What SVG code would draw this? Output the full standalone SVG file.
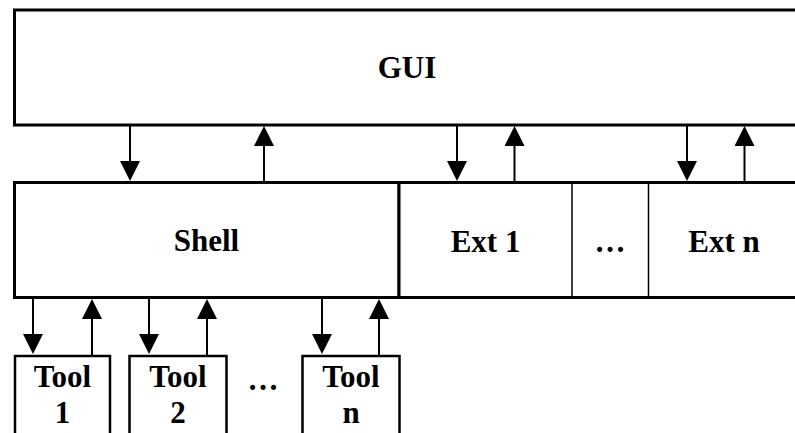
<svg xmlns="http://www.w3.org/2000/svg" width="795" height="433" viewBox="0 0 795 433">
  <style>
    .box { fill: #ffffff; stroke: #000000; stroke-width: 3; }
    .tool { fill: #ffffff; stroke: #000000; stroke-width: 2.5; }
    .thin { stroke: #000000; stroke-width: 1.5; }
    .wire { stroke: #000000; stroke-width: 2; fill: none; }
    .label { font-family: "Liberation Serif", "Times New Roman", serif; font-weight: bold; font-size: 31px; fill: #000000; text-anchor: middle; }
  </style>
  <defs>
    <marker id="head" viewBox="0 0 20 20" markerUnits="userSpaceOnUse" markerWidth="20" markerHeight="20" refX="16" refY="10" orient="auto">
      <path d="M0,0 L20,10 L0,20 z" fill="#000000"/>
    </marker>
  </defs>
  <rect width="795" height="433" fill="#ffffff"/>

  <g id="gui">
    <rect class="box" x="14.5" y="10" width="790" height="115"/>
    <text class="label" x="407" y="78">GUI</text>
  </g>

  <g id="shell">
    <rect class="box" x="14.5" y="182.5" width="384.5" height="115"/>
    <text class="label" x="206.5" y="251">Shell</text>
  </g>

  <g id="ext-row">
    <rect class="box" x="399" y="182.5" width="405" height="115"/>
    <line class="thin" x1="572" y1="182.5" x2="572" y2="297.5"/>
    <line class="thin" x1="648.5" y1="182.5" x2="648.5" y2="297.5"/>
  </g>
  <g id="ext1">
    <text class="label" x="485.5" y="252">Ext 1</text>
  </g>
  <g id="ext-dots">
    <text class="label" x="610" y="252">…</text>
  </g>
  <g id="extn">
    <text class="label" x="724" y="252">Ext n</text>
  </g>

  <g id="tool1">
    <rect class="tool" x="15" y="356" width="95" height="90"/>
    <text class="label" x="62.5" y="387">Tool</text>
    <text class="label" x="62.5" y="423">1</text>
  </g>
  <g id="tool2">
    <rect class="tool" x="129.5" y="356" width="97" height="90"/>
    <text class="label" x="178" y="387">Tool</text>
    <text class="label" x="178" y="423">2</text>
  </g>
  <g id="tool-dots">
    <text class="label" x="263" y="390">…</text>
  </g>
  <g id="tooln">
    <text class="label" x="351" y="387">Tool</text>
    <text class="label" x="351" y="423">n</text>
    <rect class="tool" x="302.5" y="356" width="97" height="90" fill="none" style="fill:none"/>
  </g>

  <g id="connectors">
    <!-- GUI to shell / extensions -->
    <line class="wire" x1="130" y1="125" x2="130" y2="177" marker-end="url(#head)"/>
    <line class="wire" x1="264" y1="182" x2="264" y2="130" marker-end="url(#head)"/>
    <line class="wire" x1="457" y1="125" x2="457" y2="177" marker-end="url(#head)"/>
    <line class="wire" x1="514.5" y1="182" x2="514.5" y2="130" marker-end="url(#head)"/>
    <line class="wire" x1="687" y1="125" x2="687" y2="177" marker-end="url(#head)"/>
    <line class="wire" x1="744.5" y1="182" x2="744.5" y2="130" marker-end="url(#head)"/>
    <!-- shell to tools -->
    <line class="wire" x1="33" y1="298" x2="33" y2="350" marker-end="url(#head)"/>
    <line class="wire" x1="92" y1="355" x2="92" y2="303" marker-end="url(#head)"/>
    <line class="wire" x1="149" y1="298" x2="149" y2="350" marker-end="url(#head)"/>
    <line class="wire" x1="207" y1="355" x2="207" y2="303" marker-end="url(#head)"/>
    <line class="wire" x1="322" y1="298" x2="322" y2="350" marker-end="url(#head)"/>
    <line class="wire" x1="379" y1="355" x2="379" y2="303" marker-end="url(#head)"/>
  </g>
</svg>
